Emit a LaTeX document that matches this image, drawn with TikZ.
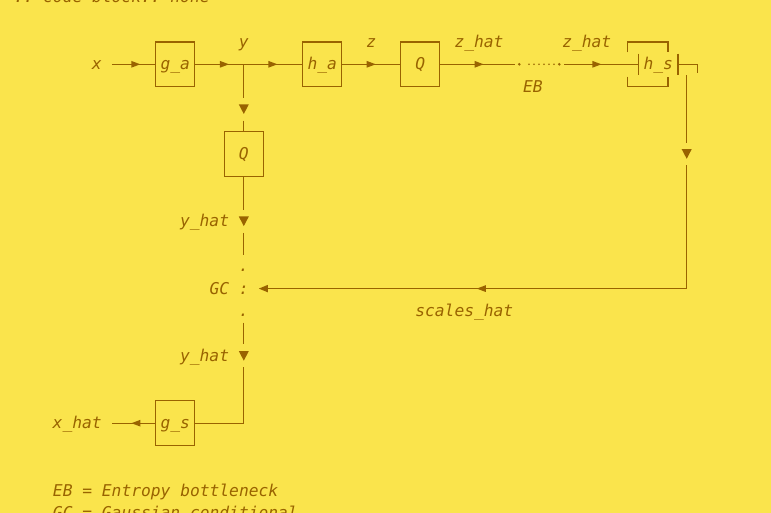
\documentclass[tikz,border=0pt]{standalone}
\usepackage{fontspec}
\setmonofont{DejaVu Sans Mono}
\usepackage{tikz}
\usetikzlibrary{arrows.meta}
\definecolor{padyellow}{RGB}{250,228,76}
\definecolor{asciibrown}{RGB}{153,99,0}
\newcommand{\codefont}{\ttfamily\itshape\fontsize{12.2pt}{16.8pt}\selectfont}

\begin{document}
\begin{tikzpicture}[
  x=0.75pt, y=-0.75pt,
  txt/.style={font=\codefont, text=asciibrown, inner sep=0pt,
              text height=10.5pt, text depth=2.25pt},
  port/.style={txt, inner xsep=7.35pt},
  blk/.style={txt, draw=asciibrown, line width=1pt,
              minimum width=29.4pt, minimum height=33.6pt},
  gapcell/.style={inner sep=0pt, minimum width=7.35pt, minimum height=16.8pt},
  flow/.style={draw=asciibrown, line width=1pt},
  tipR/.pic={\fill[asciibrown] (-4.5,-3.4) -- (4.5,0) -- (-4.5,3.4) -- cycle;},
  tipL/.pic={\fill[asciibrown] (4.5,-3.4) -- (-4.5,0) -- (4.5,3.4) -- cycle;},
  tipD/.pic={\fill[asciibrown] (-5,-4.8) -- (5,-4.8) -- (0,4.8) -- cycle;}
]
\useasboundingbox (0,0) rectangle (771,513);
\fill[padyellow] (0,0) rectangle (771,513);
\clip (0,0) rectangle (771,513);

%% Header line (cut by the top edge)
\node[txt, anchor=base west] (hdr) at (13.5,2.5) {.. code-block:: none};

%% Top row: analysis and hyper path
\node[port] (xin)  at (96.8,64.3)  {x};
\node[blk]  (ga)   at (175.2,64.3) {g\_a};
\coordinate (ybr)  at (243.8,64.3);
\node[txt]  (ylbl) at (243.8,41.9) {y};
\node[blk]  (ha)   at (322.2,64.3) {h\_a};
\node[txt]  (zlbl) at (371.2,41.9) {z};
\node[blk]  (qz)   at (420.2,64.3) {Q};
\node[txt]  (zhatl) at (479,41.9)  {z\_hat};
\node[gapcell, minimum width=36.75pt] (eb) at (539.5,64.3) {};
\node[txt]  (eblbl) at (532.9,86.7) {EB};
\node[txt]  (zhatr) at (586.8,41.9) {z\_hat};
\node[txt, minimum width=29.25pt, minimum height=15.75pt] (hs) at (658.2,64.3) {h\_s};

%% Top row arrows
\draw[flow] (xin) -- pic[pos=0.556]{tipR} (ga);
\draw[flow] (ga) -- pic[pos=0.6]{tipR} (ybr);
\draw[flow] (ybr) -- pic[pos=0.5]{tipR} (ha);
\draw[flow] (ha) -- pic[pos=0.5]{tipR} (qz);
\draw[flow] (qz) -- pic[pos=0.52]{tipR} (eb);
\draw[flow] (eb) -- pic[pos=0.44]{tipR} (hs);

%% Entropy bottleneck dots
\fill[asciibrown] (519.3,64.3) circle (1.4) (559.3,64.3) circle (1.4);
\foreach \dx in {529,534,...,554}
  \fill[asciibrown] (\dx,64.3) circle (0.9);

%% h_s frame
\draw[flow] (hs.north west) -- (hs.south west) (hs.north east) -- (hs.south east);
\draw[flow] (627.3,52.3) -- (627.3,41.9) -- (668,41.9) -- (668,52.3);
\draw[flow] (627.3,76.7) -- (627.3,86.7) -- (668,86.7) -- (668,76.7);
\coordinate (hsstub) at (697.7,64.3);
\draw[flow] (hs) -- (hsstub) -- ++(0,9);

%% Left column: quantise, conditional, synthesis
\node[gapcell] (tipy1) at (243.8,109.2) {};
\node[blk]     (qy)    at (243.8,154)   {Q};
\node[gapcell] (tipy2) at (243.8,221.3) {};
\node[txt]     (yhat1) at (204.6,221.3) {y\_hat};
\node[txt]     (dota)  at (243.8,266.2) {.};
\node[txt, minimum width=22.05pt, minimum height=50.5pt] (gc) at (243.8,288.6) {:};
\node[txt]     (gclbl) at (219.3,288.6) {GC};
\node[txt]     (dotb)  at (243.8,311)   {.};
\node[txt]     (scales) at (464.3,311)  {scales\_hat};
\node[gapcell] (tipy3) at (243.8,355.9) {};
\node[txt]     (yhat2) at (204.6,355.9) {y\_hat};
\node[blk]     (gs)    at (175.2,423.2) {g\_s};
\node[port]    (xhat)  at (77.2,423.2)  {x\_hat};

\pic at (tipy1) {tipD};
\pic at (tipy2) {tipD};
\pic at (tipy3) {tipD};

\draw[flow] (ybr) -- (tipy1);
\draw[flow] (tipy1) -- (qy);
\draw[flow] (qy) -- (tipy2);
\draw[flow] (tipy2) -- (gc);
\draw[flow] (gc) -- (tipy3);
\draw[flow] (tipy3) |- (gs);
\draw[flow] (gs) -- pic[pos=0.44]{tipL} (xhat);

%% Right column: scales back to GC
\coordinate (hsout) at (686.7,75.5);
\node[gapcell] (tips) at (686.7,154) {};
\pic at (tips) {tipD};
\draw[flow] (hsout) -- (tips);
\draw[flow, -{Triangle[length=6.75pt,width=5.25pt]}] (tips) |- pic[pos=0.74]{tipL} (gc);

%% Legend
\node[txt, anchor=base west] (legeb) at (52.7,496)   {EB = Entropy bottleneck};
\node[txt, anchor=base west] (leggc) at (52.7,518.4) {GC = Gaussian conditional};
\end{tikzpicture}
\end{document}
